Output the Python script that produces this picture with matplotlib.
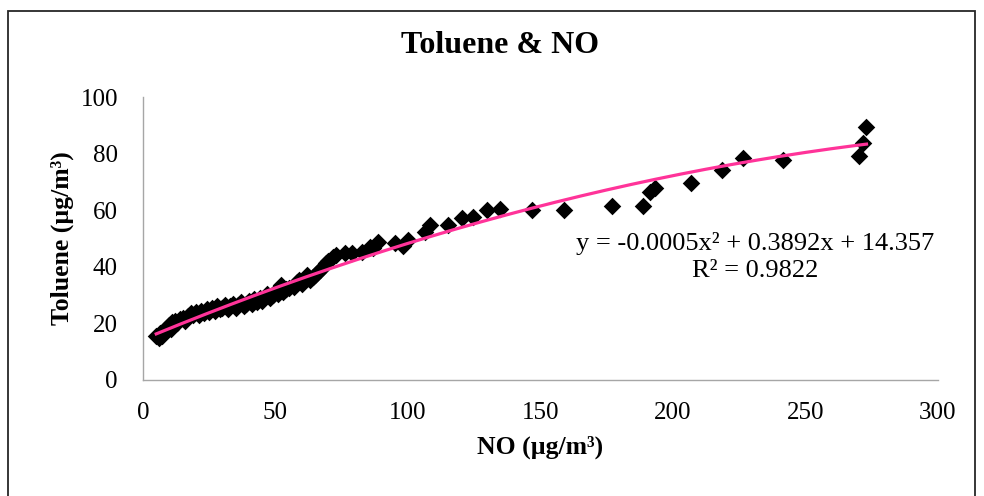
import numpy as np
import matplotlib
matplotlib.use('Agg')
from matplotlib import pyplot
from matplotlib.patches import Rectangle

TITLE = 'Toluene & NO'
X_LABEL = 'NO (µg/m³)'
Y_LABEL = 'Toluene (µg/m³)'
EQUATION = 'y = -0.0005x² + 0.3892x + 14.357'
R_SQUARED = 'R² = 0.9822'

# trend line coefficients as printed on the chart (a*x^2 + b*x + c)
TREND_COEFFS = [-0.0005, 0.3892, 14.357]

no_values = [5, 6, 6.5, 7, 8, 9, 10, 10.5, 11, 12, 13, 14, 15, 16, 17, 18, 19,
             20, 21, 22, 23, 24, 25, 26, 27, 28, 29, 30, 31, 32, 33, 34, 35,
             36, 37, 38, 39, 40, 41, 42, 43, 44, 45, 46, 47, 48, 49, 50, 51,
             52, 53, 54, 55, 57, 58, 59, 60, 61, 62, 63, 64, 65, 66, 67, 68,
             69, 70, 71.8, 73, 76.2, 78.8, 82.5, 85.7, 87, 88.8, 95.1, 98,
             100.1, 106.4, 108.3, 115.2, 120.3, 124.6, 129.7, 134.7, 146.7,
             158.9, 176.9, 188.8, 191.3, 193.2, 207, 218.4, 226.5, 241.4,
             270.3, 271.6, 273.1]
toluene_values = [15.5, 14.8, 16.5, 15.5, 17.5, 18.5, 19.5, 18, 20.5, 21, 20,
                  21.5, 22, 21, 22.5, 23.5, 22.8, 24, 23, 24.5, 23.8, 25, 24,
                  25.5, 24.5, 26, 25, 25.5, 26.5, 25, 26, 27, 25.5, 26.5, 27.5,
                  26, 27, 28, 27, 28.5, 27.5, 29, 28, 29.5, 30.5, 29, 30, 31,
                  30.5, 33.5, 31, 32, 32.5, 33, 34.5, 35.5, 34, 36, 37, 35.5,
                  36.5, 37, 38, 39, 40, 41.5, 42, 43.6, 44, 44.9, 44.9, 45.3,
                  47.1, 46.5, 48.9, 48.3, 47.5, 49.5, 52.4, 54.8, 54.8, 57.1,
                  57.7, 60.1, 60.6, 60.1, 60.1, 61.5, 61.5, 66.5, 67.8, 69.5,
                  74.2, 78.3, 77.9, 79.2, 83.6, 89.5]

fig = pyplot.figure(figsize=(9.84, 4.96), dpi=100)
pyplot.rcParams['font.family'] = ['Liberation Serif', 'DejaVu Serif']
ax = fig.add_axes([0.1453, 0.2339, 0.8077, 0.5705])

ax.scatter(no_values, toluene_values, marker='D', s=80, color='black', zorder=2,
           linewidths=0)
trend_x = np.linspace(min(no_values), max(no_values), 200)
ax.plot(trend_x, np.polyval(TREND_COEFFS, trend_x), color='#ff3399', lw=2.3, zorder=3)

ax.set_xlim(0, 300)
ax.set_ylim(0, 100)
ax.set_xticks(range(0, 301, 50))
ax.set_yticks(range(0, 101, 20))
ax.tick_params(length=0, labelsize=18, pad=16)
ax.tick_params(axis='y', pad=18)
for side in ['top', 'right']:
    ax.spines[side].set_visible(False)
for side in ['left', 'bottom']:
    ax.spines[side].set_color('#a6a6a6')
    ax.spines[side].set_linewidth(1.0)

ax.set_xlabel(X_LABEL, fontsize=18.5, fontweight='bold', labelpad=8)
ax.set_ylabel(Y_LABEL, fontsize=18.5, fontweight='bold')
ax.yaxis.set_label_coords(-0.087, 0.5)
fig.text(0.508, 0.909, TITLE, ha='center', va='center', fontsize=23, fontweight='bold')

ax.text(0.767, 0.51, EQUATION, transform=fig.transFigure, ha='center', va='center', fontsize=19)
ax.text(0.767, 0.4536, R_SQUARED, transform=fig.transFigure, ha='center', va='center', fontsize=19)

fig.patches.append(Rectangle((0.008, -0.01), 0.983, 0.988, transform=fig.transFigure,
                             fill=False, edgecolor='#262626', lw=1.3))

fig.savefig('out.png', dpi=100)
